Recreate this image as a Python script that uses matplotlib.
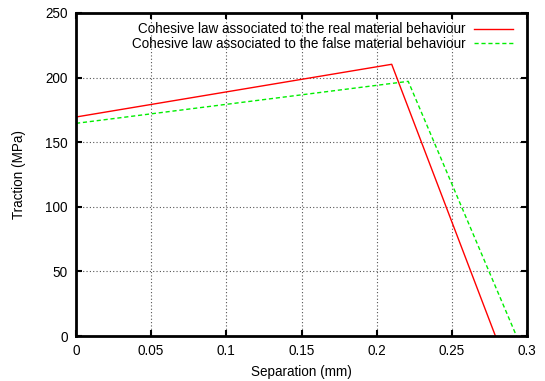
import matplotlib
matplotlib.use("Agg")
import matplotlib.pyplot as plt

plt.rcParams['font.family'] = ['Liberation Sans', 'DejaVu Sans']

real_x = [0.0, 0.21, 0.279]
real_y = [169.5, 210.3, 0.0]
false_x = [0.0, 0.221, 0.293]
false_y = [164.6, 197.1, 0.0]
real_label = "Cohesive law associated to the real material behaviour"
false_label = "Cohesive law associated to the false material behaviour"
xticks = [0, 0.05, 0.1, 0.15, 0.2, 0.25, 0.3]
xticklabels = ["0", "0.05", "0.1", "0.15", "0.2", "0.25", "0.3"]
yticks = [0, 50, 100, 150, 200, 250]

fig = plt.figure(figsize=(5.45, 3.81), dpi=100)
ax = fig.add_axes([76/545, 1-336/381, (527-76)/545, (336-13)/381])
ax.plot(real_x, real_y, color='#ff0000', lw=1.0, label=real_label)
ax.plot(false_x, false_y, color='#00ee00', lw=1.0, ls=(0, (3, 2)), label=false_label)
ax.set_xlim(0, 0.3)
ax.set_ylim(0, 250)
ax.set_xticks(xticks)
ax.set_xticklabels(xticklabels)
ax.set_yticks(yticks)
ax.grid(True, color='#555555', ls=(0, (1, 2)), lw=0.8)
ax.tick_params(direction='in', top=True, right=True, length=4, width=1.5, labelsize=9.75, pad=6)
for s in ax.spines.values():
    s.set_linewidth(2)
ax.set_xlabel("Separation (mm)", fontsize=9.75, labelpad=5)
ax.set_ylabel("Traction (MPa)", fontsize=9.75, labelpad=14)
ax.legend(loc='upper right', frameon=False, markerfirst=False, fontsize=9.75,
          handlelength=2.9, handletextpad=0.6, labelspacing=0.05,
          borderaxespad=0.3, bbox_to_anchor=(0.99, 1.0))
fig.savefig("out.png", dpi=100)
